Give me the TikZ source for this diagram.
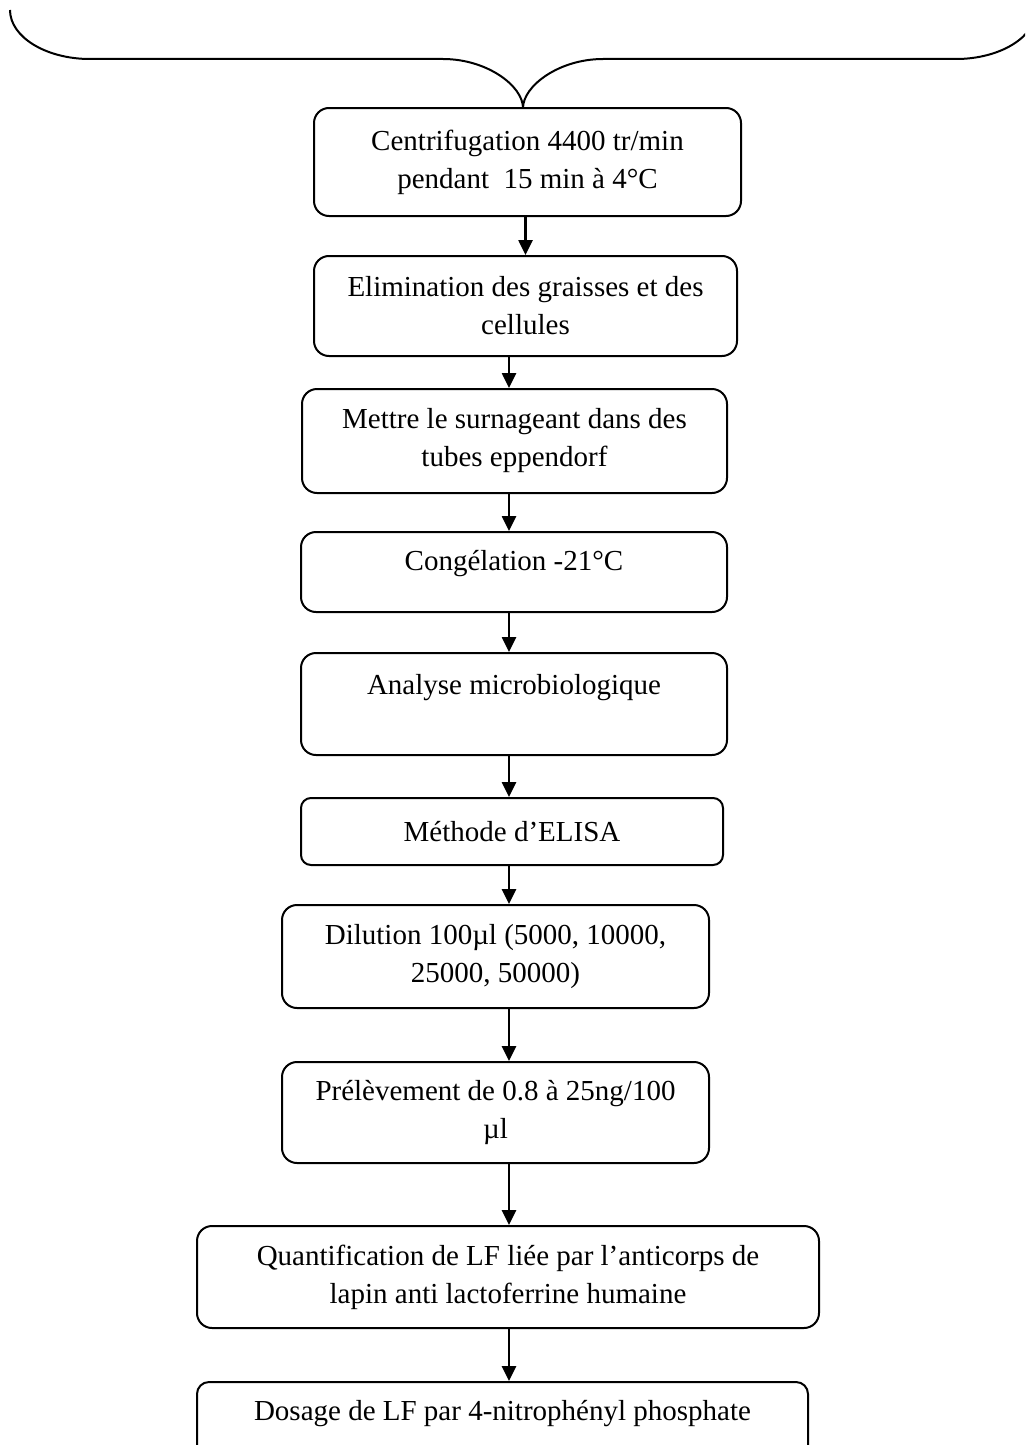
\documentclass[tikz,border=0pt]{standalone}
\usepackage{fontspec}
\setmainfont{Liberation Serif}
\usetikzlibrary{arrows.meta}

\begin{document}
\begin{tikzpicture}[
    x=1pt, y=-1pt,
    line width=2pt,
    stepbox/.style={draw, line width=2pt, rounded corners=15pt, align=center, inner sep=0pt,
        font=\fontsize{29}{38}\selectfont},
    toptext/.style={text depth=#1},
    arrow/.style={line width=2.6pt, -{Triangle[length=15pt,width=14pt]}},
]
    \clip (0, 0) rectangle (1025, 1445);

    \draw (10, 10) .. controls (10, 37) and (46, 59) .. (90, 59)
        -- (443, 59) .. controls (487, 59) and (523, 86) .. (523, 108)
        .. controls (523, 86) and (559, 59) .. (603, 59)
        -- (956, 59) .. controls (1000, 59) and (1036, 37) .. (1036, 10);

    \node[stepbox, minimum width=427pt, minimum height=108pt] (centri) at (527.5, 162)
        {Centrifugation 4400 tr/min\\pendant~~15 min à 4°C};
    \node[stepbox, minimum width=423pt, minimum height=100pt] (elim) at (525.5, 306)
        {Elimination des graisses et des\\cellules};
    \node[stepbox, minimum width=425pt, minimum height=104pt] (surnag) at (514.5, 441)
        {Mettre le surnageant dans des\\tubes eppendorf};
    \node[stepbox, toptext=24pt, minimum width=426pt, minimum height=80pt] (congel) at (514, 572)
        {Congélation -21°C};
    \node[stepbox, toptext=40pt, minimum width=426pt, minimum height=102pt] (analyse) at (514, 704)
        {Analyse microbiologique};
    \node[stepbox, rounded corners=10pt, minimum width=422pt, minimum height=67pt] (elisa) at (512, 831.5)
        {Méthode d’ELISA};
    \node[stepbox, minimum width=427pt, minimum height=103pt] (dilution) at (495.5, 956.5)
        {Dilution 100µl (5000, 10000,\\25000, 50000)};
    \node[stepbox, minimum width=427pt, minimum height=101pt] (prelev) at (495.5, 1112.5)
        {Prélèvement de 0.8 à 25ng/100\\µl};
    \node[stepbox, minimum width=622pt, minimum height=102pt] (quantif) at (508, 1277)
        {Quantification de LF liée par l’anticorps de\\lapin anti lactoferrine humaine};
    \node[stepbox, rounded corners=12pt, toptext=24pt, minimum width=611pt, minimum height=80pt] (dosage) at (502.5, 1422)
        {Dosage de LF par 4-nitrophényl phosphate};

    \coordinate (spine) at (509, 0);
    \draw[arrow] (centri.south -| elim.north) -- (elim.north);
    \draw[arrow] (elim.south -| spine) -- (surnag.north -| spine);
    \draw[arrow] (surnag.south -| spine) -- (congel.north -| spine);
    \draw[arrow] (congel.south -| spine) -- (analyse.north -| spine);
    \draw[arrow] (analyse.south -| spine) -- (elisa.north -| spine);
    \draw[arrow] (elisa.south -| spine) -- (dilution.north -| spine);
    \draw[arrow] (dilution.south -| spine) -- (prelev.north -| spine);
    \draw[arrow] (prelev.south -| spine) -- (quantif.north -| spine);
    \draw[arrow] (quantif.south -| spine) -- (dosage.north -| spine);
\end{tikzpicture}
\end{document}
